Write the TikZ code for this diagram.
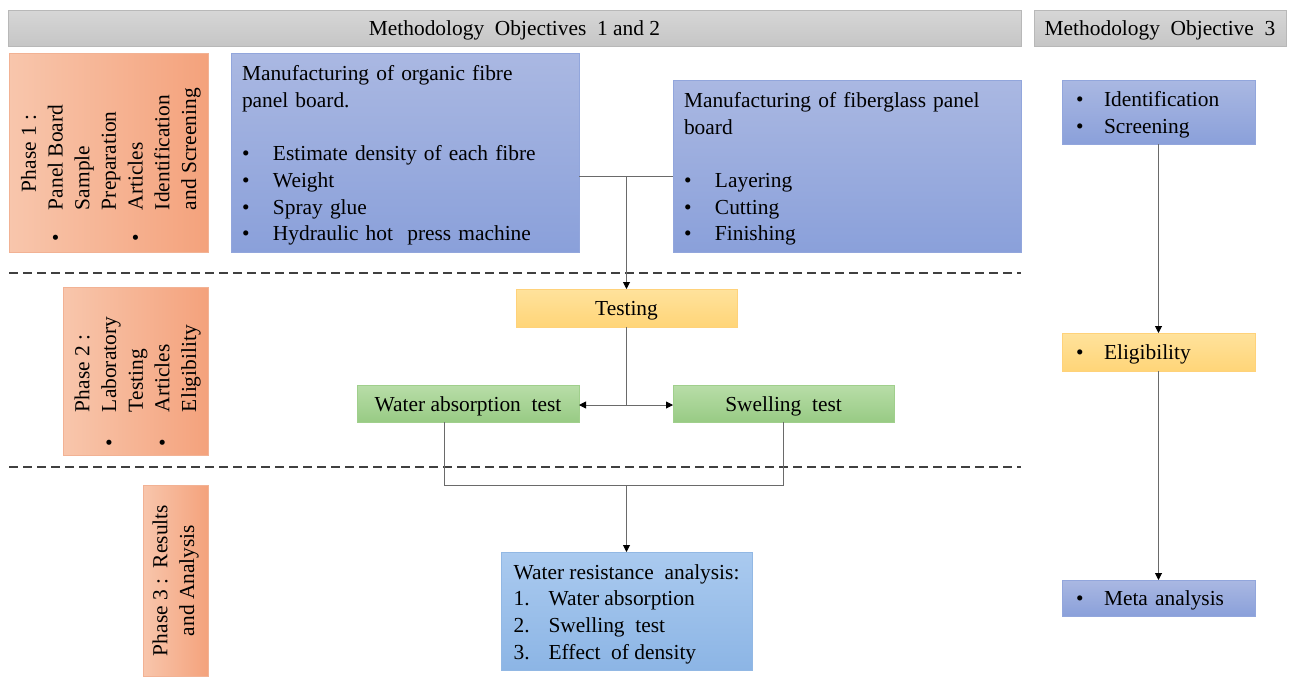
\documentclass[tikz,border=0pt]{standalone}
\usepackage{fontspec}
\setmainfont{Liberation Serif}
\usepackage{graphicx}
\usetikzlibrary{arrows.meta}
\definecolor{hdrT}{HTML}{D6D6D6}
\definecolor{hdrB}{HTML}{C6C6C6}
\definecolor{hdrD}{HTML}{B8B8B8}
\definecolor{orL}{HTML}{F8C6AC}
\definecolor{orR}{HTML}{F4A27C}
\definecolor{orD}{HTML}{F2B294}
\definecolor{blT}{HTML}{AAB8E2}
\definecolor{blB}{HTML}{8AA0DA}
\definecolor{blD}{HTML}{92A6DC}
\definecolor{yeT}{HTML}{FFE29C}
\definecolor{yeB}{HTML}{FFD578}
\definecolor{yeD}{HTML}{FFD27A}
\definecolor{grT}{HTML}{B8DDA8}
\definecolor{grB}{HTML}{98CB84}
\definecolor{grD}{HTML}{A0CF8C}
\definecolor{anT}{HTML}{AACAEF}
\definecolor{anB}{HTML}{8CB5E5}
\definecolor{anD}{HTML}{92B8E4}
\definecolor{lineC}{HTML}{6A6A6A}
\definecolor{dashC}{HTML}{404040}
\tikzset{
  base/.style={inner sep=0pt, outer sep=0pt, font=\fontsize{21.4}{26.7}\selectfont, text=black},
  one/.style={text height=15.6pt, text depth=0pt},
  hdr/.style={base, one, draw=hdrD, top color=hdrT, bottom color=hdrB},
  phasebox/.style={base, draw=orD, left color=orL, right color=orR},
  bluebox/.style={base, draw=blD, top color=blT, bottom color=blB},
  yelbox/.style={base, draw=yeD, top color=yeT, bottom color=yeB},
  grnbox/.style={base, draw=grD, top color=grT, bottom color=grB},
  anabox/.style={base, draw=anD, top color=anT, bottom color=anB},
  conn/.style={draw=lineC, line width=0.9pt},
  arr/.style={conn, -{Triangle[length=7pt,width=7pt,color=black]}},
  sep/.style={draw=dashC, line width=2.2pt, dash pattern=on 9pt off 5pt},
  rtext/.style={base, rotate=90, anchor=north west, align=left}
}
\newcommand{\bul}[1][31pt]{\makebox[#1][l]{•}}
\newcommand{\topfix}{\rule{0pt}{21pt}}
\begin{document}
\begin{tikzpicture}[x=1pt,y=-1pt]
\useasboundingbox (0,0) rectangle (1292,678);
% headers
\node[hdr, minimum width=1013, minimum height=36] (h1) at (514.5,28) {Methodology\ \ Objectives\ \ 1 and 2};
\node[hdr, minimum width=252, minimum height=36] (h2) at (1160,28) {Methodology\ \ Objective\ \ 3};
% separators
\coordinate (s1a) at (9,273); \coordinate (s1b) at (1021,273);
\coordinate (s2a) at (9,467); \coordinate (s2b) at (1021,467);
\draw[sep] (s1a) -- (s1b);
\draw[sep] (s2a) -- (s2b);
% phase boxes
\node[phasebox, minimum width=199, minimum height=199] (p1) at (108.5,152.5) {};
\node[rtext] (p1t) at (21,241) {%
\hspace*{49pt}Phase 1 :\\
\bul Panel Board\\
\hspace*{31pt}Sample\\
\hspace*{31pt}Preparation\\
\bul Articles\\
\hspace*{31pt}Identification\\
\hspace*{31pt}and Screening};
\node[phasebox, minimum width=145, minimum height=168] (p2) at (135.5,371) {};
\node[rtext] (p2t) at (74.5,446) {%
\hspace*{34pt}Phase 2 :\\
\bul[34pt]Laboratory\\
\hspace*{34pt}Testing\\
\bul[34pt]Articles\\
\hspace*{34pt}Eligibility};
\node[phasebox, minimum width=65, minimum height=191] (p3) at (175.5,580.5)
  {\rotatebox{90}{\begin{tabular}{@{}c@{}}Phase 3 :\ \ Results\\and Analysis\end{tabular}}};
% manufacturing boxes
\node[bluebox, minimum width=348, minimum height=199, text width=326, align=left] (m1) at (405,152.5) {%
\topfix Manufacturing of organic fibre\\
panel board.\\[26.7pt]
\bul Estimate density of each fibre\\
\bul Weight\\
\bul Spray glue\\
\bul Hydraulic hot\ \ press machine};
\node[bluebox, minimum width=348, minimum height=172, text width=326, align=left] (m2) at (847,166) {%
\topfix Manufacturing of fiberglass panel\\
board\\[26.7pt]
\bul Layering\\
\bul Cutting\\
\bul Finishing};
% testing
\node[yelbox, one, minimum width=221, minimum height=38] (test) at (626.5,308) {Testing};
\node[grnbox, one, minimum width=222, minimum height=37] (wat) at (468,403.5) {Water absorption\ \ test};
\node[grnbox, one, minimum width=221, minimum height=37] (swe) at (783.5,403.5) {Swelling\ \ test};
\node[anabox, minimum width=251, minimum height=118, align=left] (ana) at (626.5,611) {%
\topfix Water resistance\ \ analysis:\\
\makebox[35pt][l]{1.}Water absorption\\
\makebox[35pt][l]{2.}Swelling\ \ test\\
\makebox[35pt][l]{3.}Effect\ \ of density};
% right column
\node[bluebox, minimum width=193, minimum height=64, text width=165, align=left] (id) at (1158.5,112) {%
\topfix\bul[28pt]Identification\\
\bul[28pt]Screening};
\node[yelbox, one, minimum width=193, minimum height=38, text width=165, align=left] (elig) at (1158.5,352) {\bul[28pt]Eligibility};
\node[bluebox, one, minimum width=193, minimum height=36, text width=165, align=left] (meta) at (1158.5,598) {\bul[28pt]Meta analysis};
% connectors
\coordinate (j1) at (626.5,176.5);
\draw[conn] (m1.east |- j1) -- (m2.west |- j1);
\draw[arr] (j1) -- (test.north);
\coordinate (j2) at (626.5,405);
\draw[conn] (test.south) -- (j2);
\draw[arr] (j2) -- (wat.east |- j2);
\draw[arr] (j2) -- (swe.west |- j2);
\coordinate (wb) at (444,422);
\coordinate (sb) at (783,422);
\coordinate (j3) at (626.5,485);
\draw[conn] (wb) -- (444,485) -- (783,485) -- (sb);
\draw[arr] (j3) -- (ana.north);
\draw[arr] (id.south) -- (elig.north);
\draw[arr] (elig.south) -- (meta.north);
\end{tikzpicture}
\end{document}
